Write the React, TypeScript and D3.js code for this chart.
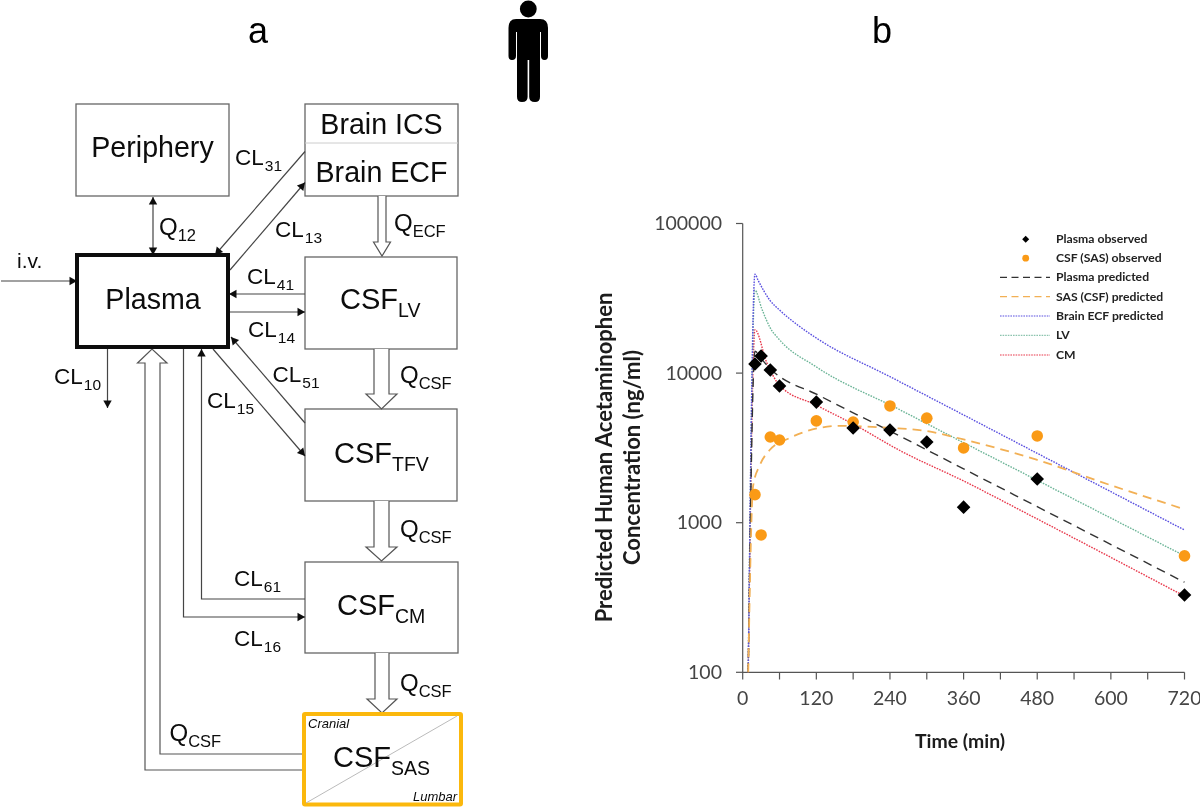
import React from "react";
import * as d3 from "d3";

// ---------- chart values (panel b) ----------
const obsTimes = [20, 30, 45, 60, 120, 180, 240, 300, 360, 480, 720];
const plasmaObserved = [11500, 13000, 10500, 8200, 6400, 4300, 4170, 3460, 1270, 1960, 329];
const csfObserved = [1540, 828, 3740, 3570, 4790, 4710, 6030, 5000, 3160, 3800, 600];

const plasmaPred: [number, number][] = [[9, 100], [20, 14000], [30, 12500], [45, 10700], [125, 7070], [256, 3800], [360, 2290], [480, 1280], [720, 400]];
const sasPred: [number, number][] = [[9, 100], [17, 1760], [28, 2430], [44, 3060], [77, 3690], [125, 4300], [158, 4440], [240, 4300], [300, 4100], [360, 3600], [480, 2630], [600, 1780], [720, 1230]];
const ecfPred: [number, number][] = [[9, 100], [20, 45900], [25, 41800], [44, 30800], [60, 26400], [90, 20900], [125, 16640], [240, 9470], [354, 5410], [480, 2910], [720, 893]];
const lvPred: [number, number][] = [[9, 100], [20, 35900], [31, 27000], [45, 20000], [60, 16700], [120, 11000], [256, 5690], [354, 3530], [480, 1920], [720, 600]];
const cmPred: [number, number][] = [[9, 100], [20, 19500], [39, 11800], [60, 8300], [120, 6100], [180, 4570], [256, 3040], [360, 1900], [480, 1059], [720, 323]];

const xTicks = [0, 60, 120, 180, 240, 300, 360, 420, 480, 540, 600, 660, 720];
const xLabels = [0, 120, 240, 360, 480, 600, 720];
const yTicks = [100, 1000, 10000, 100000];
const legendLabels = ["Plasma observed", "CSF (SAS) observed", "Plasma predicted", "SAS (CSF) predicted", "Brain ECF predicted", "LV", "CM"];

const x = d3.scaleLinear().domain([0, 720]).range([742.7, 1184.5]);
const y = d3.scaleLog().domain([100, 100000]).range([672.3, 223.5]);
const line = d3.line<[number, number]>().x(d => x(d[0])).y(d => y(d[1])).curve(d3.curveMonotoneX);

const ORANGE = "#FA9A17";
const seriesStyles = [
  { data: cmPred, color: "#E8394C", dash: "1.6 1.2", w: 1.4 },
  { data: lvPred, color: "#6DB598", dash: "1.6 1.2", w: 1.4 },
  { data: ecfPred, color: "#5A50E0", dash: "1.6 1.2", w: 1.4 },
  { data: plasmaPred, color: "#333333", dash: "9 6", w: 1.4 },
  { data: sasPred, color: "#F2B055", dash: "9 6", w: 1.8 },
];
const legendStyles = [
  null, null,
  { color: "#333333", dash: "7 4.5", w: 1.3 },
  { color: "#F2B055", dash: "7 4.5", w: 1.3 },
  { color: "#5A50E0", dash: "1.6 1", w: 1.2 },
  { color: "#8CC4AE", dash: "1.6 1", w: 1.2 },
  { color: "#E8394C", dash: "1.6 1", w: 1.2 },
];
const legendRows = [239.3, 258.2, 277.3, 296.6, 316, 335.4, 355];

const ARIAL = "'Liberation Sans', Arial, sans-serif";
const CALIBRI = "Lato, sans-serif";

// ---------- diagram (panel a) ----------
const plainBoxes = [
  [76, 104, 153, 92], [305, 104, 153, 92], [305, 257, 152, 92], [305, 409, 152, 92], [305, 562, 153, 91],
];
const clLabels: [string, string, number, number][] = [
  ["CL", "31", 235, 165], ["CL", "13", 275, 237], ["CL", "41", 247, 284], ["CL", "14", 248, 337],
  ["CL", "51", 272.5, 382], ["CL", "15", 207, 408], ["CL", "10", 54, 384], ["CL", "61", 234, 586], ["CL", "16", 234, 646],
  ["Q", "12", 159, 235], ["Q", "ECF", 394, 231], ["Q", "CSF", 400, 383], ["Q", "CSF", 400, 537], ["Q", "CSF", 400, 691], ["Q", "CSF", 169.5, 741],
];
const csfLabels: [string, number, number][] = [["LV", 340, 309], ["TFV", 334, 463], ["CM", 337, 615], ["SAS", 333, 767]];
// thin connectors: points of a polyline, arrow head at the last point
const connectors: [number, number][][] = [
  [[1, 281], [77, 281]],
  [[305, 294], [229, 294]],
  [[229, 312], [305, 312]],
  [[305, 151.5], [215, 255]],
  [[230, 270], [305, 182.5]],
  [[305, 423], [231, 337]],
  [[213, 349], [305, 456]],
  [[305, 599], [201.5, 599], [201.5, 349]],
  [[183.5, 349], [183.5, 617], [305, 617]],
  [[107.5, 349], [107.5, 408]],
  [[153, 225], [153, 197]],
  [[153, 225], [153, 255]],
];
// hollow double arrows running downwards
const hollow: [number, number, number, number, number, number][] = [
  [378, 386, 196, 242, 256, 4.5],
  [374, 389, 349, 394, 409, 8],
  [374, 389, 501, 547, 561, 8],
  [375, 389, 653, 699, 713, 8],
];

function head(pts: [number, number][]) {
  const [x1, y1] = pts[pts.length - 2];
  const [x2, y2] = pts[pts.length - 1];
  const a = Math.atan2(y2 - y1, x2 - x1);
  const L = 7.5, W = 4.2;
  const bx = x2 - L * Math.cos(a), by = y2 - L * Math.sin(a);
  const nx = -Math.sin(a) * W, ny = Math.cos(a) * W;
  return `M${x2},${y2}L${bx + nx},${by + ny}L${bx - nx},${by - ny}Z`;
}

function Diagram() {
  const sty = { fontFamily: ARIAL, fill: "#0a0a0a" } as const;
  return (
    <g>
      {plainBoxes.map((b, i) => (
        <rect key={i} x={b[0]} y={b[1]} width={b[2]} height={b[3]} fill="#fff" stroke="#666" strokeWidth={1.3} />
      ))}
      <line x1={305} x2={458} y1={143} y2={143} stroke="#ccc" strokeWidth={1} />
      {connectors.map((c, i) => (
        <g key={i}>
          <path d={d3.line()(c) as string} fill="none" stroke="#444" strokeWidth={1.2} />
          <path d={head(c)} fill="#111" />
        </g>
      ))}
      {hollow.map((h, i) => {
        const [a, b, y0, yb, tip, o] = h;
        return (
          <path key={i} d={`M${a},${y0}V${yb}H${a - o}L${(a + b) / 2},${tip}L${b + o},${yb}H${b}V${y0}`} fill="#fff" stroke="#555" strokeWidth={1.2} />
        );
      })}
      <path d="M303,770H145V363H137.5L152,349L167,363H160V754H303" fill="#fff" stroke="#555" strokeWidth={1.2} />
      <rect x={77} y={255} width={151} height={92} fill="#fff" stroke="#111" strokeWidth={4} />
      <rect x={304} y={714} width={157} height={90.5} fill="#fff" stroke="#FBB80F" strokeWidth={4} rx={1} />
      <line x1={457} y1={716} x2={306} y2={803} stroke="#bbb" strokeWidth={1} />
      <text {...sty} x={152.5} y={157} fontSize={28.6} textAnchor="middle">Periphery</text>
      <text {...sty} x={381.5} y={134} fontSize={28.6} textAnchor="middle">Brain ICS</text>
      <text {...sty} x={381.5} y={182} fontSize={28.6} textAnchor="middle">Brain ECF</text>
      <text {...sty} x={153} y={309} fontSize={28.6} textAnchor="middle">Plasma</text>
      <text {...sty} x={17} y={268} fontSize={21}>i.v.</text>
      {csfLabels.map(([s, lx, ly]) => (
        <text key={s} {...sty} x={lx} y={ly} fontSize={29}>CSF<tspan fontSize={19.5} dy={7.5}>{s}</tspan></text>
      ))}
      {clLabels.map(([m, s, lx, ly], i) => (
        <text key={i} {...sty} x={lx} y={ly} fontSize={m === "Q" ? 24 : 22.5}>{m}<tspan fontSize={m === "Q" ? 16.5 : 15.5} dy={5.5} dx={m === "Q" ? 0 : 1}>{s}</tspan></text>
      ))}
      <text {...sty} x={308} y={728} fontSize={13} fontStyle="italic">Cranial</text>
      <text {...sty} x={457} y={801} fontSize={13} fontStyle="italic" textAnchor="end">Lumbar</text>
      <text {...sty} fill="#000" x={258} y={43} fontSize={36} textAnchor="middle">a</text>
      <text {...sty} fill="#000" x={882} y={43} fontSize={36} textAnchor="middle">b</text>
      <g fill="#000">
        <circle cx={528.3} cy={9} r={8.4} />
        <path d="M516,19H540Q548,19 548,28V56Q548,60 544.5,60Q541,60 541,56V32H540V97Q540,102 535,102Q529.2,102 529.2,97V60H527.6V97Q527.6,102 522,102Q517,102 517,97V32H516V56Q516,60 512,60Q508.5,60 508.5,56V28Q508.5,19 516,19Z" />
      </g>
    </g>
  );
}

function Chart() {
  const axis = "#555";
  return (
    <g>
      <path d={`M${x(0)},${y(100000)}V${y(100)}H${x(720)}`} fill="none" stroke={axis} strokeWidth={1.2} />
      {yTicks.map(t => (
        <g key={t}>
          <line x1={736} x2={x(0)} y1={y(t)} y2={y(t)} stroke={axis} strokeWidth={1.2} />
          <text x={722} y={y(t) + 6.5} textAnchor="end" fontFamily={CALIBRI} fontSize={19.5} fill="#444">{t}</text>
        </g>
      ))}
      {xTicks.map(t => (
        <line key={t} x1={x(t)} x2={x(t)} y1={y(100)} y2={679.5} stroke={axis} strokeWidth={1.2} />
      ))}
      {xLabels.map(t => (
        <text key={t} x={x(t)} y={705} textAnchor="middle" fontFamily={CALIBRI} fontSize={19.5} fill="#444">{t}</text>
      ))}
      <text x={960} y={748} textAnchor="middle" fontFamily={CALIBRI} fontWeight={700} fontSize={19.4} fill="#1a1a1a">Time (min)</text>
      <text transform="translate(612,457.5) rotate(-90)" textAnchor="middle" fontFamily={CALIBRI} fontWeight={700} fontSize={22} fill="#1a1a1a">Predicted Human Acetaminophen</text>
      <text transform="translate(640,457.5) rotate(-90)" textAnchor="middle" fontFamily={CALIBRI} fontWeight={700} fontSize={22} fill="#1a1a1a">Concentration (ng/ml)</text>

      {seriesStyles.map((s, i) => (
        <path key={i} d={line(s.data) as string} fill="none" stroke={s.color} strokeWidth={s.w} strokeDasharray={s.dash} />
      ))}
      {obsTimes.map((t, i) => (
        <circle key={t} cx={x(t)} cy={y(csfObserved[i])} r={5.8} fill={ORANGE} />
      ))}
      {obsTimes.map((t, i) => {
        const cx = x(t), cy = y(plasmaObserved[i]), r = 6.8;
        return <path key={t} d={`M${cx},${cy - r}L${cx + r},${cy}L${cx},${cy + r}L${cx - r},${cy}Z`} fill="#000" />;
      })}

      {legendLabels.map((l, i) => {
        const ry = legendRows[i], st = legendStyles[i];
        return (
          <g key={l}>
            {i === 0 && <path d={`M1025.7,${ry - 3.5}l3.5,3.5l-3.5,3.5l-3.5,-3.5Z`} fill="#000" />}
            {i === 1 && <circle cx={1025.7} cy={ry} r={3.4} fill={ORANGE} />}
            {st && <line x1={1000} x2={1050} y1={ry} y2={ry} stroke={st.color} strokeWidth={st.w} strokeDasharray={st.dash} />}
            <text x={1056} y={ry + 4} fontFamily={CALIBRI} fontWeight={700} fontSize={12.2} fill="#222">{l}</text>
          </g>
        );
      })}
    </g>
  );
}

export default function App() {
  return (
    <svg width={1200} height={808} viewBox="0 0 1200 808" style={{ position: "absolute", left: 0, top: 0, background: "#fff" }}>
      <defs>
        <filter id="soft" x="0" y="0" width="1200" height="808" filterUnits="userSpaceOnUse" primitiveUnits="userSpaceOnUse">
          <feGaussianBlur stdDeviation={0.4} />
        </filter>
      </defs>
      <g filter="url(#soft)">
        <rect width={1200} height={808} fill="#fff" />
        <Diagram />
        <Chart />
      </g>
    </svg>
  );
}
